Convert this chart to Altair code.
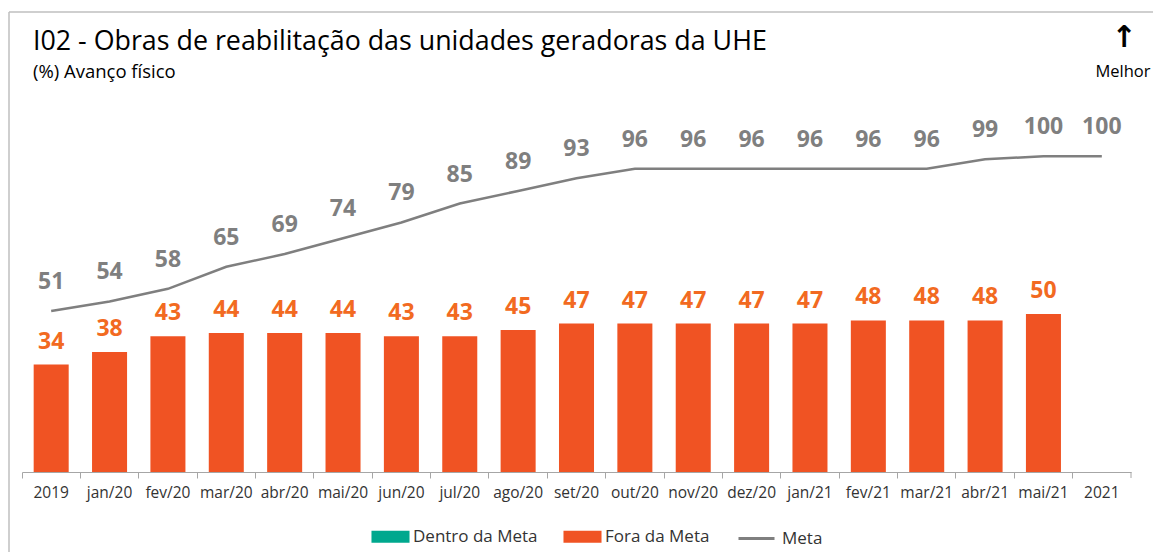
import altair as alt
import pandas as pd

categories = ["2019", "jan/20", "fev/20", "mar/20", "abr/20", "mai/20", "jun/20",
              "jul/20", "ago/20", "set/20", "out/20", "nov/20", "dez/20", "jan/21",
              "fev/21", "mar/21", "abr/21", "mai/21", "2021"]
fora_da_meta = [34, 38, 43, 44, 44, 44, 43, 43, 45, 47, 47, 47, 47, 47, 48, 48, 48, 50, None]
meta = [51, 54, 58, 65, 69, 74, 79, 85, 89, 93, 96, 96, 96, 96, 96, 96, 99, 100, 100]

FONT = "Open Sans"
ORANGE = "#F05323"
ORANGE_TXT = "#F26A21"
GREEN = "#00A88E"
GRAY = "#7F7F7F"

bars_df = pd.DataFrame({
    "cat": categories[:-1],
    "valor": fora_da_meta[:-1],
    "status": ["Fora da Meta"] * (len(categories) - 1),
})
meta_df = pd.DataFrame({"cat": categories, "meta": meta, "serie": ["Meta"] * len(categories)})

W, H = 1109, 379

x = alt.X("cat:N", sort=categories,
          scale=alt.Scale(paddingInner=0, paddingOuter=0),
          axis=alt.Axis(title=None, labelAngle=0, bandPosition=0, labelFont=FONT,
                        labelFontSize=15.5, labelColor="#333333", labelPadding=7,
                        tickSize=6, tickColor="#A6A6A6", domainColor="#A6A6A6",
                        grid=False))
yscale = alt.Scale(domain=[0, 120], nice=False)

bars = alt.Chart(bars_df).mark_bar(width=alt.RelativeBandSize(0.6)).encode(
    x=x,
    y=alt.Y("valor:Q", scale=yscale, axis=None),
    color=alt.Color("status:N",
                    scale=alt.Scale(domain=["Dentro da Meta", "Fora da Meta"], range=[GREEN, ORANGE]),
                    legend=alt.Legend(title=None, orient="none", direction="horizontal",
                                      legendX=360, legendY=435,
                                      symbolType="M-3.17,-1H3.17V1H-3.17Z", symbolSize=144,
                                      symbolStrokeWidth=0, labelOffset=14, columnPadding=25,
                                      labelFont=FONT, labelFontSize=17, labelColor="#333333",
                                      padding=0)),
)

bar_labels = alt.Chart(bars_df).mark_text(
    dy=-23, font=FONT, fontSize=23, fontWeight="bold", color=ORANGE_TXT, baseline="middle"
).encode(x=alt.X("cat:N", sort=categories), y=alt.Y("valor:Q", scale=yscale), text="valor:Q")

line = alt.Chart(meta_df).mark_line(strokeWidth=2.5).encode(
    x=alt.X("cat:N", sort=categories),
    y=alt.Y("meta:Q", scale=yscale),
    stroke=alt.Stroke("serie:N", scale=alt.Scale(domain=["Meta"], range=[GRAY]),
                      legend=alt.Legend(title=None, orient="none", legendX=715, legendY=426,
                                        symbolSize=1296, symbolStrokeWidth=3,
                                        labelOffset=6, labelFont=FONT, labelFontSize=17,
                                        labelColor="#333333", padding=0)),
)

line_labels = alt.Chart(meta_df).mark_text(
    dy=-29, font=FONT, fontSize=23, fontWeight="bold", color=GRAY, baseline="middle"
).encode(x=alt.X("cat:N", sort=categories), y=alt.Y("meta:Q", scale=yscale), text="meta:Q")

one = pd.DataFrame({"k": [0]})
title = alt.Chart(one).mark_text(
    text="I02 - Obras de reabilitação das unidades geradoras da UHE", align="left",
    baseline="middle", font=FONT, fontSize=26.8, color="#000000"
).encode(x=alt.value(11), y=alt.value(-51))
subtitle = alt.Chart(one).mark_text(
    text="(%) Avanço físico", align="left", baseline="middle", font=FONT, fontSize=18.5,
    color="#000000"
).encode(x=alt.value(11), y=alt.value(-21))
arrow = alt.Chart(one).mark_text(
    text="↑", align="center", baseline="middle", font="DejaVu Sans", fontSize=30,
    fontWeight="bold", color="#000000"
).encode(x=alt.value(1102), y=alt.value(-55))
melhor = alt.Chart(one).mark_text(
    text="Melhor", align="center", baseline="middle", font=FONT, fontSize=16.5,
    color="#000000"
).encode(x=alt.value(1101), y=alt.value(-21))

frame_top = alt.Chart(one).mark_rule(color="#BFBFBF", strokeWidth=1.5).encode(
    x=alt.value(-13), x2=alt.value(1131), y=alt.value(-81))
frame_left = alt.Chart(one).mark_rule(color="#BFBFBF", strokeWidth=1.5).encode(
    x=alt.value(-13), y=alt.value(-81), y2=alt.value(465))
end_tick = alt.Chart(one).mark_rule(color="#A6A6A6", strokeWidth=1).encode(
    x=alt.value(W), y=alt.value(H), y2=alt.value(H + 6))

chart = alt.layer(
    frame_top, frame_left, bars, bar_labels, line, line_labels, title, subtitle, arrow,
    melhor, end_tick
).properties(
    width=W, height=H,
    autosize=alt.AutoSizeParams(type="none"),
    padding={"left": 14, "top": 85, "right": 22, "bottom": 80},
).configure(background="white").configure_view(stroke=None)

chart.save("out.html", embed_options={"renderer": "svg", "actions": False})
